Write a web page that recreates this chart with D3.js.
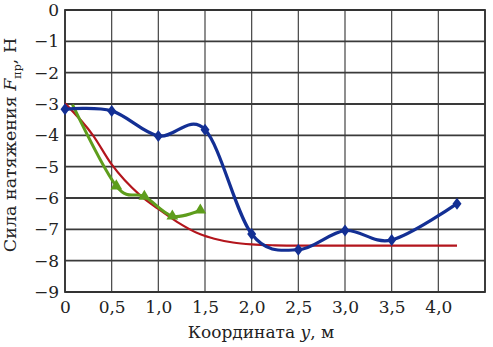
<!DOCTYPE html>
<html>
<head>
<meta charset="utf-8">
<script src="https://cdn.jsdelivr.net/npm/d3@7"></script>
<style>
  body { margin: 0; background: #fff; }
  svg text { font-family: "DejaVu Serif", serif; fill: #222; }
</style>
</head>
<body>
<svg id="chart"></svg>
<script>
// measured series (y coordinate in m, force in N)
const blueX = [0, 0.5, 1.0, 1.5, 2.0, 2.5, 3.0, 3.5, 4.2];
const blueF = [-3.17, -3.22, -4.02, -3.82, -7.15, -7.65, -7.04, -7.34, -6.18];

const greenX = [0.08, 0.55, 0.85, 1.15, 1.45];
const greenF = [-3.02, -5.62, -5.95, -6.58, -6.39];

// calculated curve
const redX = [0, 0.3, 0.5, 0.8, 1.0, 1.2, 1.45, 1.6, 1.8, 2.0, 2.25, 2.5, 3.0, 4.2];
const redF = [-2.98, -4.0, -4.93, -5.9, -6.35, -6.76, -7.16, -7.3, -7.42, -7.48, -7.51, -7.52, -7.52, -7.52];

const xTicks = [0, 0.5, 1.0, 1.5, 2.0, 2.5, 3.0, 3.5, 4.0];
const xTickLabels = ["0", "0,5", "1,0", "1,5", "2,0", "2,5", "3,0", "3,5", "4,0"];
const yTicks = [0, -1, -2, -3, -4, -5, -6, -7, -8, -9];

const config = {
  width: 493, height: 347,
  margin: {top: 10, right: 8, bottom: 55, left: 65}
};

const svg = d3.select('#chart')
  .attr('width', config.width)
  .attr('height', config.height);

const innerW = config.width - config.margin.left - config.margin.right;
const innerH = config.height - config.margin.top - config.margin.bottom;

const chart = svg.append('g')
  .attr('transform', `translate(${config.margin.left},${config.margin.top})`);

const xScale = d3.scaleLinear().domain([0, 4.5]).range([0, innerW]);
const yScale = d3.scaleLinear().domain([0, -9]).range([0, innerH]);

// grid
chart.append('g')
  .selectAll('line')
  .data(xTicks.concat([4.5]))
  .join('line')
    .attr('x1', d => xScale(d)).attr('x2', d => xScale(d))
    .attr('y1', 0).attr('y2', innerH)
    .attr('stroke', '#444').attr('stroke-width', 1.2);

chart.append('g')
  .selectAll('line')
  .data(yTicks)
  .join('line')
    .attr('x1', 0).attr('x2', innerW)
    .attr('y1', d => yScale(d)).attr('y2', d => yScale(d))
    .attr('stroke', '#3a3a3a').attr('stroke-width', 1.8);

chart.append('rect')
  .attr('width', innerW).attr('height', innerH)
  .attr('fill', 'none').attr('stroke', '#333').attr('stroke-width', 1.8);

// axes labels
const xAxis = chart.append('g')
  .attr('transform', `translate(0,${innerH})`)
  .call(d3.axisBottom(xScale).tickValues(xTicks).tickSize(0).tickPadding(9)
    .tickFormat((d, i) => xTickLabels[i]));
xAxis.select('.domain').remove();
xAxis.selectAll('text').style('font-size', '17px').attr('fill', '#222');

const yAxis = chart.append('g')
  .call(d3.axisLeft(yScale).tickValues(yTicks).tickSize(0).tickPadding(6)
    .tickFormat(d => d === 0 ? "0" : "\u2212" + Math.abs(d)));
yAxis.select('.domain').remove();
yAxis.selectAll('text').style('font-size', '17px').attr('fill', '#222');

svg.append('text')
  .attr('x', config.margin.left + xScale(2.1))
  .attr('y', 338)
  .attr('text-anchor', 'middle')
  .style('font-size', '17px')
  .html('Координата <tspan font-style="italic">y</tspan>, м');

svg.append('text')
  .attr('transform', 'translate(16,145) rotate(-90)')
  .attr('text-anchor', 'middle')
  .style('font-size', '17.5px')
  .html('Сила натяжения <tspan font-style="italic">F</tspan><tspan dy="5" font-size="11px">пр</tspan><tspan dy="-5">, Н</tspan>');

// lines
const line = d3.line()
  .x(d => xScale(d[0]))
  .y(d => yScale(d[1]));

const redData = redX.map((x, i) => [x, redF[i]]);
const greenData = greenX.map((x, i) => [x, greenF[i]]);
const blueData = blueX.map((x, i) => [x, blueF[i]]);

chart.append('path')
  .datum(redData)
  .attr('d', line.curve(d3.curveMonotoneX))
  .attr('fill', 'none').attr('stroke', '#b3151c').attr('stroke-width', 2.2);

chart.append('path')
  .datum(greenData)
  .attr('d', line.curve(d3.curveCatmullRom.alpha(0)))
  .attr('fill', 'none').attr('stroke', '#5e9d1c').attr('stroke-width', 3);

chart.append('g')
  .selectAll('path')
  .data(greenData.slice(1))
  .join('path')
    .attr('d', d3.symbol(d3.symbolTriangle, 60))
    .attr('transform', d => `translate(${xScale(d[0])},${yScale(d[1])})`)
    .attr('fill', '#5e9d1c');

chart.append('path')
  .datum(blueData)
  .attr('d', line.curve(d3.curveCatmullRom.alpha(0)))
  .attr('fill', 'none').attr('stroke', '#132f94').attr('stroke-width', 3.2);

chart.append('g')
  .selectAll('path')
  .data(blueData)
  .join('path')
    .attr('d', 'M0,-6L4.5,0L0,6L-4.5,0Z')
    .attr('transform', d => `translate(${xScale(d[0])},${yScale(d[1])})`)
    .attr('fill', '#132f94');
</script>
</body>
</html>
